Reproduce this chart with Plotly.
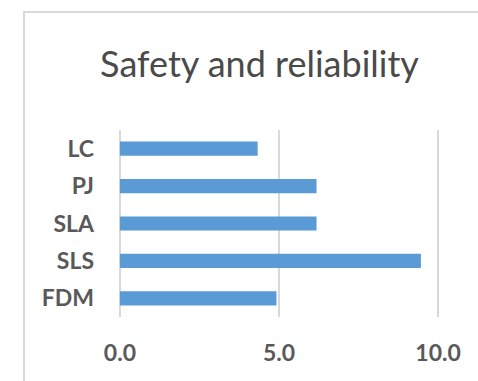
import plotly.graph_objects as go

categories = ["FDM", "SLS", "SLA", "PJ", "LC"]
values = [4.92, 9.46, 6.18, 6.18, 4.33]
tick_vals = [0, 5, 10]
tick_text = ["0.0", "5.0", "10.0"]

W, H = 478, 381
x_lo, x_hi = -0.06, 10.06
L, R, T, B = 118, 38, 130, 64
pw, ph = W - L - R, H - T - B

fig = go.Figure(go.Bar(
    x=values, y=categories, orientation="h",
    marker=dict(color="#5B9BD5", line=dict(width=0)),
    width=0.38,
))

font = "Lato, 'Open Sans', sans-serif"
fig.update_layout(
    width=W, height=H,
    margin=dict(l=L, r=R, t=T, b=B, pad=0),
    paper_bgcolor="white", plot_bgcolor="white",
    showlegend=False,
    title=dict(text="Safety and reliability", x=259.5 / W, xanchor="center",
               y=1 - 64 / H, yanchor="middle",
               font=dict(family=font, size=36, color="#4a4a4a")),
    xaxis=dict(range=[x_lo, x_hi], tickvals=tick_vals, ticktext=tick_text,
               showgrid=True, gridcolor="#D9D9D9", gridwidth=2,
               zeroline=False, showline=False, ticks="",
               ticklabelstandoff=20,
               tickfont=dict(family=font, size=23, color="#595959", weight="bold")),
    yaxis=dict(categoryorder="array", categoryarray=categories,
               range=[-0.5, 4.5], showgrid=False, zeroline=False,
               showline=False, ticks="", ticklabelstandoff=23,
               tickfont=dict(family=font, size=23, color="#595959", weight="bold")),
    shapes=[dict(type="rect", xref="paper", yref="paper",
                 x0=(24 - L) / pw, x1=(W + 10 - L) / pw,
                 y0=(H - B - (H + 10)) / ph, y1=(H - B - 12) / ph,
                 line=dict(color="#D9D9D9", width=2), layer="below")],
)

fig.write_html("out.html")
